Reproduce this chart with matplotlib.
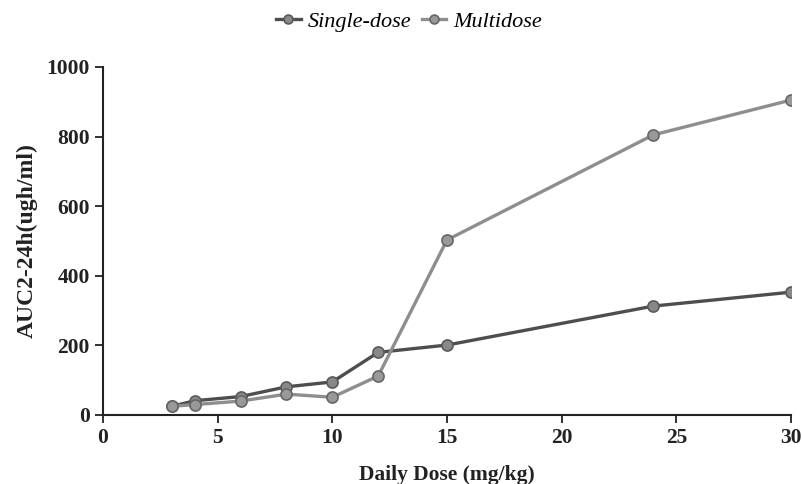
import matplotlib
matplotlib.use("Agg")
import matplotlib.pyplot as plt

dose = [3, 4, 6, 8, 10, 12, 15, 24, 30]
single_dose = [25, 41, 53, 81, 95, 180, 201, 313, 353]
multidose = [25, 30, 40, 60, 51, 112, 503, 805, 905]
x_ticks = [0, 5, 10, 15, 20, 25, 30]
y_ticks = [0, 200, 400, 600, 800, 1000]

plt.rcParams['font.family'] = ['Liberation Serif', 'DejaVu Serif']

fig = plt.figure(figsize=(8.02, 4.84), dpi=100)
ax = fig.add_axes([103/802, 1-415/484, (791-103)/802, (415-67)/484])

ax.plot(dose, single_dose, color='#4e4e4e', lw=2.4, marker='o', ms=8,
        markerfacecolor='#888888', markeredgecolor='#5a5a5a', markeredgewidth=1.2,
        label='Single-dose', zorder=3)
ax.plot(dose, multidose, color='#8e8e8e', lw=2.4, marker='o', ms=8,
        markerfacecolor='#999999', markeredgecolor='#666666', markeredgewidth=1.2,
        label='Multidose', zorder=3)

ax.set_xlim(0, 30)
ax.set_ylim(0, 1000)
ax.set_xticks(x_ticks)
ax.set_yticks(y_ticks)
for s in ['top', 'right']:
    ax.spines[s].set_visible(False)
for s in ['left', 'bottom']:
    ax.spines[s].set_linewidth(1.5)
    ax.spines[s].set_color('#222222')
ax.tick_params(axis='both', direction='out', length=6, width=1.3, labelsize=15.5, colors='#222222')
for lbl in ax.get_xticklabels() + ax.get_yticklabels():
    lbl.set_fontweight('bold')

ax.set_xlabel('Daily Dose (mg/kg)', fontsize=15.5, fontweight='bold', color='#222222', labelpad=12)
ax.set_ylabel('AUC2-24h(ugh/ml)', fontsize=17, fontweight='bold', color='#222222', labelpad=6)

leg = fig.legend(loc='upper center', bbox_to_anchor=(0.51, 1.018), ncol=2, frameon=False,
                 prop={'style': 'italic', 'size': 16}, handlelength=1.1, handletextpad=0.3,
                 columnspacing=0.5, markerscale=0.8)

fig.savefig('out.png', dpi=100)
